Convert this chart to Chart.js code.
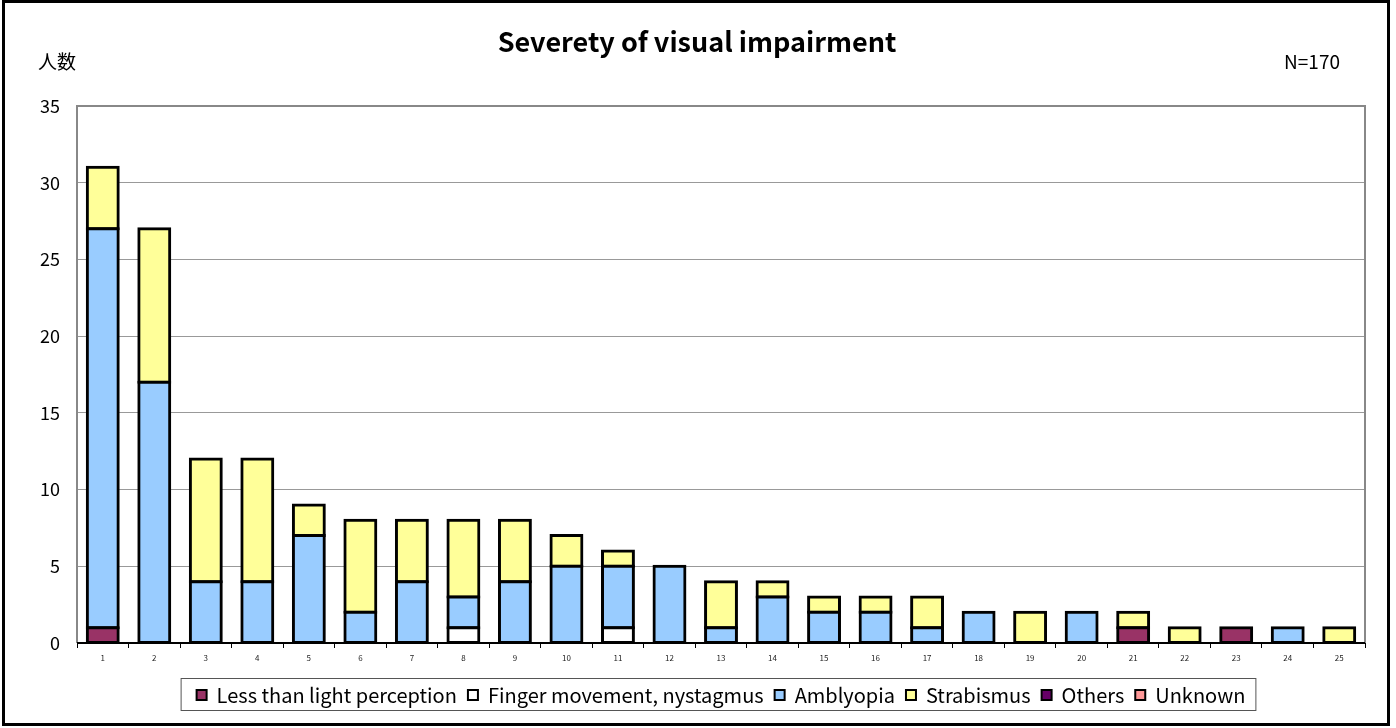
<!DOCTYPE html>
<html lang="en">
<head>
    <meta charset="UTF-8">
    <title>Severety of visual impairment</title>
    <script src="https://cdn.jsdelivr.net/npm/chart.js"></script>
    <style>
        html, body { margin: 0; padding: 0; background: #fff; }
        #wrap { position: relative; width: 1396px; height: 728px; }
    </style>
</head>
<body>
    <div id="wrap"><canvas id="chart" width="1396" height="728"></canvas></div>

    <script>
        const categories = ['1','2','3','4','5','6','7','8','9','10','11','12','13','14','15','16','17','18','19','20','21','22','23','24','25'];
        const lessThanLight = [1,0,0,0,0,0,0,0,0,0,0,0,0,0,0,0,0,0,0,0,1,0,1,0,0];
        const fingerMovement = [0,0,0,0,0,0,0,1,0,0,1,0,0,0,0,0,0,0,0,0,0,0,0,0,0];
        const amblyopia = [26,17,4,4,7,2,4,2,4,5,4,5,1,3,2,2,1,2,0,2,0,0,0,1,0];
        const strabismus = [4,10,8,8,2,6,4,5,4,2,1,0,3,1,1,1,2,0,2,0,1,1,0,0,1];
        const others = [0,0,0,0,0,0,0,0,0,0,0,0,0,0,0,0,0,0,0,0,0,0,0,0,0];
        const unknown = [0,0,0,0,0,0,0,0,0,0,0,0,0,0,0,0,0,0,0,0,0,0,0,0,0];
        const yTicks = [0,5,10,15,20,25,30,35];

        const FONT = "'Noto Sans CJK JP', 'Liberation Sans', sans-serif";

        function series(label, values, color) {
            return {
                label: label,
                data: values.map(v => v === 0 ? null : v),
                backgroundColor: color,
                borderColor: '#000',
                borderWidth: 3,
                inflateAmount: 1.5,   // centre the stroke on the edge, Excel style
                borderSkipped: false,
                barPercentage: 0.6,
                categoryPercentage: 1.0
            };
        }

        // frame, title, axis caption, N label, plot border, legend box
        const decorations = {
            id: 'decorations',
            beforeDraw(chart) {
                const { ctx } = chart;
                ctx.save();
                ctx.fillStyle = '#fff';
                ctx.fillRect(0, 0, chart.width, chart.height);
                ctx.restore();
            },
            beforeDatasetsDraw(chart) {
                const { ctx, chartArea: a } = chart;
                ctx.save();
                ctx.strokeStyle = '#888';
                ctx.lineWidth = 2;
                ctx.beginPath();
                ctx.moveTo(a.left, a.bottom);
                ctx.lineTo(a.left, a.top);
                ctx.lineTo(a.right, a.top);
                ctx.lineTo(a.right, a.bottom);
                ctx.stroke();
                ctx.strokeStyle = '#000';
                ctx.beginPath();
                ctx.moveTo(a.left, a.bottom);
                ctx.lineTo(a.right, a.bottom);
                ctx.stroke();
                ctx.restore();
            },
            afterDraw(chart) {
                const { ctx } = chart;
                ctx.save();
                ctx.strokeStyle = '#000';
                ctx.lineWidth = 3;
                ctx.strokeRect(3.5, 1.5, 1385, 723);

                ctx.fillStyle = '#000';
                ctx.textBaseline = 'middle';
                ctx.textAlign = 'center';
                ctx.font = 'bold 27px ' + FONT;
                ctx.fillText('Severety of visual impairment', 697, 42);
                ctx.font = '19px ' + FONT;
                ctx.textAlign = 'left';
                ctx.fillText('人数', 38, 62);
                ctx.textAlign = 'right';
                ctx.font = '19px ' + FONT;
                ctx.fillText('N=170', 1340, 62);

                const boxes = chart.legend.legendHitBoxes;
                if (boxes && boxes.length) {
                    const last = boxes[boxes.length - 1];
                    const left = boxes[0].left - 16;
                    const right = last.left + last.width + 10;
                    const mid = boxes[0].top + boxes[0].height / 2;
                    ctx.strokeStyle = '#555';
                    ctx.lineWidth = 1;
                    ctx.strokeRect(left + 0.5, mid - 16.5, right - left, 32);
                }
                ctx.restore();
            }
        };

        new Chart(document.getElementById('chart'), {
            type: 'bar',
            data: {
                labels: categories,
                datasets: [
                    series('Less than light perception', lessThanLight, '#993366'),
                    series('Finger movement, nystagmus', fingerMovement, '#ffffff'),
                    series('Amblyopia', amblyopia, '#99ccff'),
                    series('Strabismus', strabismus, '#ffff99'),
                    series('Others', others, '#660066'),
                    series('Unknown', unknown, '#ff9999')
                ]
            },
            options: {
                responsive: false,
                animation: false,
                layout: { padding: { top: 106, left: 0, right: 31, bottom: 13 } },
                plugins: {
                    title: { display: false },
                    tooltip: { enabled: false },
                    legend: {
                        position: 'bottom',
                        fullSize: false,
                        labels: {
                            boxWidth: 10,
                            boxHeight: 10,
                            padding: 11,
                            color: '#000',
                            font: { family: FONT, size: 20 },
                            generateLabels(chart) {
                                return chart.data.datasets.map((ds, i) => ({
                                    text: ds.label,
                                    fillStyle: ds.backgroundColor,
                                    strokeStyle: '#000',
                                    lineWidth: 2,
                                    datasetIndex: i,
                                    fontColor: '#000'
                                }));
                            }
                        }
                    }
                },
                scales: {
                    x: {
                        stacked: true,
                        afterFit(scale) { scale.height = 31; },
                        border: { display: false },
                        grid: {
                            offset: true,
                            drawOnChartArea: false,
                            drawTicks: true,
                            tickLength: 5,
                            color: '#000'
                        },
                        ticks: {
                            color: '#222',
                            padding: 5,
                            maxRotation: 0,
                            autoSkip: false,
                            font: { family: FONT, size: 8 }
                        }
                    },
                    y: {
                        stacked: true,
                        min: 0,
                        max: 35,
                        afterFit(scale) { scale.width = 77; },
                        afterBuildTicks(scale) { scale.ticks = yTicks.map(v => ({ value: v })); },
                        border: { display: false },
                        grid: {
                            color: '#999',
                            lineWidth: 1,
                            drawTicks: false
                        },
                        ticks: {
                            color: '#000',
                            padding: 17,
                            font: { family: FONT, size: 18 }
                        }
                    }
                }
            },
            plugins: [decorations]
        });
    </script>
</body>
</html>
